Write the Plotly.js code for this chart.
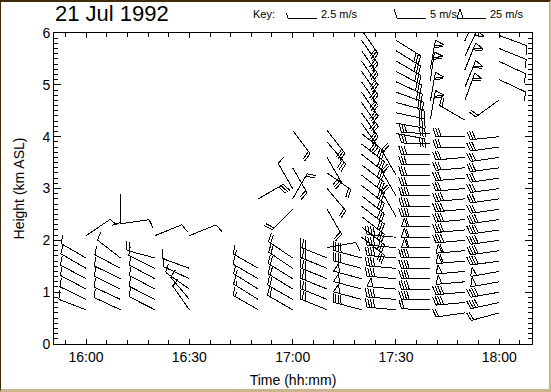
<!DOCTYPE html>
<html><head><meta charset="utf-8">
<script src="https://cdn.plot.ly/plotly-3.0.1.min.js"></script>
<style>
html,body{margin:0;padding:0;background:#fff;}
#wrap{position:relative;width:551px;height:392px;overflow:hidden;}
#chart{width:551px;height:392px;}
#frame{position:absolute;left:0;top:0;width:551px;height:392px;box-sizing:border-box;border-top:2px solid #3d2c0a;border-left:1px solid #3d2c0a;border-right:2px solid #c9b48e;border-bottom:3px solid #c9b48e;pointer-events:none;}
#chart svg path{shape-rendering:crispEdges;}
</style></head>
<body><div id="wrap"><div id="chart"></div><div id="frame"></div></div>
<script>
// ---- data: one entry per wind barb (station time, height km, direction deg, speed m/s) ----
const stationTime = [
 "16:00","16:00","16:00","16:00","16:00","16:00","16:00",
 "16:10","16:10","16:10","16:10","16:10","16:10","16:10","16:10",
 "16:20","16:20","16:20","16:20","16:20","16:20","16:20",
 "16:30","16:30","16:30","16:30","16:30","16:30",
 "16:50","16:50","16:50","16:50","16:50","16:50",
 "17:00","17:00","17:00","17:00","17:00","17:00","17:00","17:00","17:00","17:00","17:00",
 "17:10","17:10","17:10","17:10","17:10","17:10","17:10","17:10","17:10","17:10","17:10","17:10","17:10",
 "17:20","17:20","17:20","17:20","17:20","17:20",
 "17:20","17:20","17:20","17:20","17:20","17:20","17:20","17:20","17:20","17:20","17:20",
 "17:20","17:20","17:20","17:20","17:20","17:20","17:20","17:20","17:20","17:20",
 "17:30","17:30","17:30","17:30","17:30","17:30","17:30","17:30",
 "17:30","17:30","17:30",
 "17:30","17:30","17:30","17:30","17:30","17:30","17:30","17:30","17:30","17:30",
 "17:40","17:40","17:40","17:40","17:40","17:40","17:40","17:40","17:40","17:40","17:40","17:40","17:40","17:40","17:40","17:40","17:40","17:40",
 "17:40","17:40","17:40","17:40",
 "17:50","17:50","17:50","17:50","17:50","17:50","17:50","17:50","17:50","17:50","17:50","17:50","17:50","17:50","17:50","17:50","17:50","17:50",
 "17:50","17:50","17:50","17:50","17:50","17:50",
 "18:00","18:00","18:00","18:00","18:00","18:00","18:00","18:00","18:00","18:00","18:00","18:00","18:00","18:00","18:00","18:00","18:00","18:00",
 "18:00","18:00","18:00","18:00","18:00"
];
const stationHeight = [
 0.66,0.86,1.06,1.26,1.46,1.66,2.09,
 0.66,0.86,1.06,1.26,1.46,1.66,2.32,2.90,
 0.66,0.86,1.06,1.26,1.46,1.66,2.09,
 0.66,0.86,1.06,1.26,1.46,2.09,
 0.66,0.86,1.06,1.26,1.46,2.80,
 0.66,0.86,1.06,1.26,1.46,1.66,2.60,2.80,3.00,3.40,4.12,
 0.66,0.86,1.06,1.26,1.46,1.66,1.86,2.60,3.00,3.30,3.60,3.90,4.12,
 0.66,0.86,1.06,1.26,1.46,1.66,
 2.06,2.26,2.46,2.66,2.86,3.06,3.26,3.46,3.66,3.86,4.06,
 4.26,4.46,4.66,4.86,5.06,5.26,5.46,5.66,5.86,6.06,
 0.66,0.86,1.06,1.26,1.46,1.66,1.86,2.06,
 2.46,2.86,3.26,
 4.06,4.26,4.46,4.66,4.86,5.06,5.26,5.46,5.66,5.86,
 0.66,0.86,1.06,1.26,1.46,1.66,1.86,2.06,2.26,2.46,2.66,2.86,3.06,3.26,3.46,3.66,3.86,4.06,
 4.34,4.69,5.08,5.31,
 0.60,0.80,1.00,1.20,1.40,1.60,1.80,2.00,2.20,2.40,2.60,2.80,3.00,3.20,3.40,3.60,3.80,4.00,
 4.32,4.70,4.95,5.29,5.55,5.85,
 0.60,0.80,1.00,1.20,1.40,1.60,1.80,2.00,2.20,2.40,2.60,2.80,3.00,3.20,3.40,3.60,3.80,4.00,
 4.71,5.10,5.45,5.70,5.95
];
const windDir = [
 291,296,298,298,300,300,56,
 295,295,296,296,298,308,82,180,
 297,297,298,298,296,285,68,
 325,320,305,295,290,68,
 300,302,302,300,300,60,
 300,300,302,302,304,304,225,30,330,150,143,
 292,292,292,292,292,292,80,150,140,125,150,140,142,
 285,285,285,285,285,285,
 128,128,128,128,128,128,128,128,128,128,128,
 145,145,145,145,145,145,145,145,145,145,
 275,275,275,275,275,275,275,275,
 330,330,330,
 100,100,102,105,110,115,118,120,122,122,
 272,270,270,270,270,270,270,270,270,270,270,270,270,270,270,270,272,272,
 10,10,8,10,
 262,265,265,265,265,265,265,265,265,265,265,265,265,265,265,265,268,270,
 300,20,22,22,25,25,
 255,258,260,260,260,262,262,262,262,262,262,262,262,262,262,262,262,264,
 234,115,115,112,110
];
const windSpeed = [
 5,5,5,5,5,5,5,
 5,5,5,5,5,5,5,5,
 5,5,5,5,5,10,5,
 5,5,5,5,5,5,
 7.5,7.5,7.5,5,7.5,15,
 10,10,10,10,10,10,10,10,5,10,10,
 15,15,15,15,15,15,5,10,10,10,15,15,15,
 20,25,25,25,20,20,
 15,15,15,15,15,15,15,15,15,15,15,
 15,15,15,15,15,15,15,15,15,15,
 20,20,25,20,20,20,20,20,
 10,10,10,
 15,15,15,15,15,15,15,15,15,15,
 10,20,20,20,20,20,30,30,30,20,20,20,15,15,15,15,15,15,
 30,30,30,30,
 10,20,20,25,25,30,30,20,20,20,20,20,15,15,15,15,15,15,
 10,30,30,30,25,25,
 10,20,20,25,25,20,20,20,20,20,15,15,15,15,15,15,15,15,
 10,5,5,5,5
];
const tickTimes = ["16:00","16:30","17:00","17:30","18:00"];
const keySpeeds = [2.5, 5, 25];
const keyLabels = ["2.5 m/s", "5 m/s", "25 m/s"];

// ---- geometry of the plotting frame ----
const W = 551, H = 392;
const M = {l:54, r:19, t:33, b:48};
const toMin = s => { const p = s.split(":"); return (+p[0]-15)*60 + (+p[1]); };
const xRange = [50.7, 189.5], yRange = [0, 6];
const kx = (W-M.l-M.r)/(xRange[1]-xRange[0]);   // px per minute
const ky = (H-M.t-M.b)/(yRange[1]-yRange[0]);   // px per km

// barb geometry in pixels
const STAFF = 29, SPACE = 2.6, FULL = 9, HALF = 5, FLAGW = 6;
const TILT = 0.3;
function barbPixels(dir, spd){
  const th = dir*Math.PI/180, ux = Math.sin(th), uy = Math.cos(th);
  const rx = uy, ry = -ux;
  const bx = rx*Math.cos(TILT)+ux*Math.sin(TILT), by = ry*Math.cos(TILT)+uy*Math.sin(TILT);
  const lines = [[[0,0],[STAFF*ux, STAFF*uy]]];
  let s = Math.round(spd/2.5)*2.5;
  const nFlag = Math.floor(s/25+1e-9); s -= nFlag*25;
  const nFull = Math.floor(s/5+1e-9); s -= nFull*5;
  const nHalf = s >= 2.5 ? 1 : 0;
  let p = STAFF;
  for(let i=0;i<nFlag;i++){
    const a=[p*ux,p*uy], c=[(p-FLAGW)*ux,(p-FLAGW)*uy];
    const m=(p-FLAGW/2);
    const apex=[m*ux+rx*FULL, m*uy+ry*FULL];
    lines.push([a,apex,c]);
    p -= FLAGW+1.5;
  }
  for(let i=0;i<nFull;i++){
    lines.push([[p*ux,p*uy],[p*ux+bx*FULL,p*uy+by*FULL]]);
    p -= SPACE;
  }
  if(nHalf){
    lines.push([[p*ux,p*uy],[p*ux+bx*HALF,p*uy+by*HALF]]);
  }
  return lines;
}

const bx=[], by=[];
for(let i=0;i<stationTime.length;i++){
  const t = toMin(stationTime[i]), h = stationHeight[i];
  barbPixels(windDir[i], windSpeed[i]).forEach(pl=>{
    pl.forEach(pt=>{ bx.push(t+pt[0]/kx); by.push(h+pt[1]/ky); });
    bx.push(null); by.push(null);
  });
}

const traces = [{
  type:'scatter', mode:'lines', x:bx, y:by, connectgaps:false,
  line:{color:'#000', width:1}, hoverinfo:'skip', showlegend:false
}];

// key glyphs (legend, drawn in paper space)
const shapes = [];
const px2paperX = px => (px-M.l)/(W-M.l-M.r);
const px2paperY = py => (H-M.b-py)/(H-M.t-M.b);
const keyStart = [288, 397, 457], keyY = 18;
const annotations = [];
const keyFont = {family:'Liberation Sans, Arial, sans-serif', size:11, color:'#000'};
keySpeeds.forEach((sp,k)=>{
  const lines = barbPixels(270, sp);
  const stationPx = keyStart[k] + STAFF;
  lines.forEach(pl=>{
    let d='';
    pl.forEach((pt,j)=>{ d += (j?'L':'M') + px2paperX(stationPx+pt[0]) + ',' + px2paperY(keyY-pt[1]) + ' '; });
    shapes.push({type:'path', xref:'paper', yref:'paper', path:d, line:{color:'#000', width:1}});
  });
  annotations.push({xref:'paper', yref:'paper', x:px2paperX(stationPx+2), y:px2paperY(keyY-4),
    xanchor:'left', yanchor:'middle', text:keyLabels[k], showarrow:false, font:keyFont});
});
annotations.push({xref:'paper', yref:'paper', x:px2paperX(251), y:px2paperY(14), xanchor:'left', yanchor:'middle',
  text:'Key:', showarrow:false, font:keyFont});
annotations.push({xref:'paper', yref:'paper', x:px2paperX(53), y:px2paperY(14), xanchor:'left', yanchor:'middle',
  text:'21 Jul 1992', showarrow:false, font:{family:'Liberation Sans, Arial, sans-serif', size:22, color:'#000'}});

const tickFont = {family:'Liberation Sans, Arial, sans-serif', size:14, color:'#000'};
const layout = {
  width:W, height:H, margin:M, paper_bgcolor:'#fff', plot_bgcolor:'#fff',
  showlegend:false,
  xaxis:{range:xRange, showgrid:false, zeroline:false, showline:true, linecolor:'#000', linewidth:1,
    mirror:'allticks', ticks:'inside', ticklen:5, tickcolor:'#000',
    tickmode:'array', tickvals:tickTimes.map(toMin), ticktext:tickTimes, tickfont:tickFont,
    minor:{tickmode:'linear', tick0:60, dtick:6, ticks:'inside', ticklen:4, tickcolor:'#000'},
    title:{text:'Time (hh:mm)', font:tickFont, standoff:11}},
  yaxis:{range:yRange, showgrid:false, zeroline:false, showline:true, linecolor:'#000', linewidth:1,
    mirror:'allticks', ticks:'inside', ticklen:7, tickcolor:'#000', dtick:1, tick0:0, tickfont:tickFont,
    minor:{tickmode:'linear', tick0:0, dtick:0.1, ticks:'inside', ticklen:4, tickcolor:'#000'},
    title:{text:'Height (km ASL)', font:tickFont, standoff:14}},
  shapes:shapes, annotations:annotations
};
Plotly.newPlot('chart', traces, layout, {staticPlot:true, displayModeBar:false});
</script></body></html>
